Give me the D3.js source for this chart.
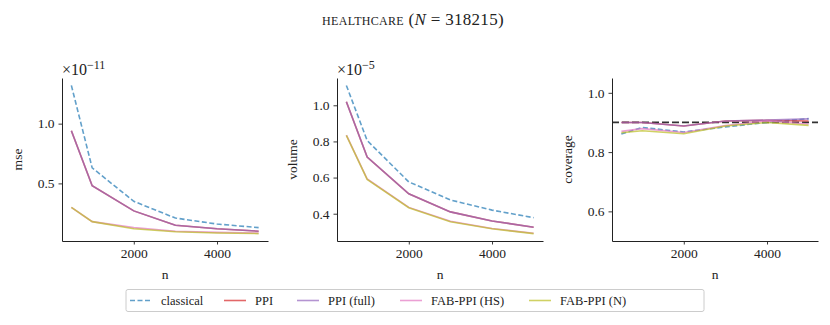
<!DOCTYPE html>
<html>
<head>
<meta charset="UTF-8">
<title>healthcare</title>
<script src="https://d3js.org/d3.v7.min.js"></script>
<style>
 body { margin: 0; background: #fff; }
 text { font-family: "Liberation Serif", "DejaVu Serif", serif; fill: #222; }
</style>
</head>
<body>
<svg id="chart" width="830" height="325"></svg>
<script>
// data
var ns = [500, 1000, 2000, 3000, 4000, 5000];
var seriesNames = ["classical", "PPI", "PPI (full)", "FAB-PPI (HS)", "FAB-PPI (N)"];
var seriesColors = ["#1f77b4", "#d62728", "#9467bd", "#e377c2", "#bcbd22"];

// mse, x 1e-11
var mseClassical = [1.32, 0.63, 0.35, 0.21, 0.16, 0.13];
var msePPI       = [0.94, 0.48, 0.27, 0.15, 0.12, 0.10];
var msePPIfull   = [0.94, 0.48, 0.27, 0.15, 0.12, 0.10];
var mseFabHS     = [0.30, 0.18, 0.13, 0.10, 0.09, 0.085];
var mseFabN      = [0.30, 0.18, 0.12, 0.095, 0.085, 0.08];

// volume, x 1e-5
var volClassical = [1.11, 0.805, 0.576, 0.476, 0.42, 0.378];
var volPPI       = [1.02, 0.713, 0.51, 0.41, 0.36, 0.325];
var volPPIfull   = [1.02, 0.713, 0.51, 0.41, 0.36, 0.325];
var volFabHS     = [0.835, 0.592, 0.435, 0.358, 0.318, 0.292];
var volFabN      = [0.833, 0.59, 0.433, 0.356, 0.317, 0.29];

// coverage
var covClassical = [0.861, 0.883, 0.868, 0.885, 0.90, 0.913];
var covPPI       = [0.90, 0.90, 0.888, 0.905, 0.907, 0.905];
var covPPIfull   = [0.90, 0.90, 0.888, 0.905, 0.908, 0.912];
var covFabHS     = [0.87, 0.879, 0.866, 0.89, 0.905, 0.895];
var covFabN      = [0.865, 0.872, 0.862, 0.888, 0.90, 0.89];
var nominal = 0.9;

var xTicks = [2000, 4000];

var panels = [
  {left: 62, label: "mse", exp: "\u221211", ticks: [0.5, 1.0], ylim: null,
   series: [mseClassical, msePPI, msePPIfull, mseFabHS, mseFabN]},
  {left: 337, label: "volume", exp: "\u22125", ticks: [0.4, 0.6, 0.8, 1.0], ylim: null,
   series: [volClassical, volPPI, volPPIfull, volFabHS, volFabN]},
  {left: 612, label: "coverage", exp: null, ticks: [0.6, 0.8, 1.0], ylim: [0.5, 1.05],
   series: [covClassical, covPPI, covPPIfull, covFabHS, covFabN]}
];

var svg = d3.select("#chart");
var W = 206, plotTop = 78, plotBottom = 241;
var FS = "13.5px";

svg.append("text")
  .attr("x", 413).attr("y", 25)
  .attr("text-anchor", "middle")
  .style("font-size", "17px")
  .style("letter-spacing", "0.3px")
  .html('<tspan style="font-variant: small-caps">healthcare</tspan> (<tspan font-style="italic">N</tspan> = 318215)');

panels.forEach(function(p, pi) {
  var x = d3.scaleLinear().domain([275, 5225]).range([p.left, p.left + W]);
  var dom;
  if (p.ylim) dom = p.ylim;
  else {
    var all = d3.merge(p.series);
    var lo = d3.min(all), hi = d3.max(all), pad = (hi - lo) * 0.05;
    dom = [lo - pad, hi + pad];
  }
  var y = d3.scaleLinear().domain(dom).range([plotBottom, plotTop]);

  var g = svg.append("g");

  if (pi == 2) {
    g.append("line")
      .attr("x1", p.left).attr("x2", p.left + W)
      .attr("y1", y(nominal)).attr("y2", y(nominal))
      .style("stroke", "#333").style("stroke-width", 1.8)
      .style("stroke-dasharray", "7,3");
  }

  var line = d3.line().x(function(d, i) { return x(ns[i]); }).y(function(d) { return y(d); });
  p.series.forEach(function(s, si) {
    g.append("path").datum(s)
      .attr("d", line)
      .style("fill", "none")
      .style("stroke", seriesColors[si])
      .style("stroke-opacity", 0.7)
      .style("stroke-width", 1.6)
      .style("stroke-dasharray", si == 0 ? "5,2.5" : null);
  });

  var xa = g.append("g").attr("transform", "translate(0," + plotBottom + ")")
    .call(d3.axisBottom(x).tickValues(xTicks).tickFormat(d3.format("d")).tickSize(3.5).tickPadding(4).tickSizeOuter(0));
  var ya = g.append("g").attr("transform", "translate(" + p.left + ",0)")
    .call(d3.axisLeft(y).tickValues(p.ticks).tickFormat(d3.format(".1f")).tickSize(3.5).tickPadding(4).tickSizeOuter(0));
  [xa, ya].forEach(function(a) {
    a.selectAll("text").style("font-size", FS).style("font-family", '"Liberation Serif", serif').style("fill", "#222");
    a.selectAll("line,path").style("stroke", "#222").style("stroke-width", 0.9);
    a.select(".domain").style("stroke-width", 1);
  });

  g.append("text")
    .attr("x", p.left + W / 2).attr("y", 279)
    .attr("text-anchor", "middle")
    .style("font-size", FS)
    .text("n");
  g.append("text")
    .attr("transform", "translate(" + (p.left - 40) + "," + ((plotTop + plotBottom) / 2) + ") rotate(-90)")
    .attr("text-anchor", "middle")
    .style("font-size", FS)
    .text(p.label);

  if (p.exp) {
    g.append("text")
      .attr("x", p.left).attr("y", 75)
      .style("font-size", "16px")
      .html('\u00d710<tspan dy="-6" style="font-size:12px">' + p.exp + '</tspan>');
  }
});

// legend
var leg = svg.append("g");
leg.append("rect")
  .attr("x", 126).attr("y", 289.5).attr("width", 578).attr("height", 22)
  .attr("rx", 2)
  .style("fill", "#fff").style("stroke", "#ccc").style("stroke-width", 1);
var legX = [130, 224, 297, 400, 529];
seriesNames.forEach(function(name, i) {
  leg.append("line")
    .attr("x1", legX[i]).attr("x2", legX[i] + 22)
    .attr("y1", 300.5).attr("y2", 300.5)
    .style("stroke", seriesColors[i]).style("stroke-opacity", 0.7)
    .style("stroke-width", 1.6)
    .style("stroke-dasharray", i == 0 ? "5,2.5" : null);
  leg.append("text")
    .attr("x", legX[i] + 31).attr("y", 304.5)
    .style("font-size", "12.5px")
    .text(name);
});
</script>
</body>
</html>
